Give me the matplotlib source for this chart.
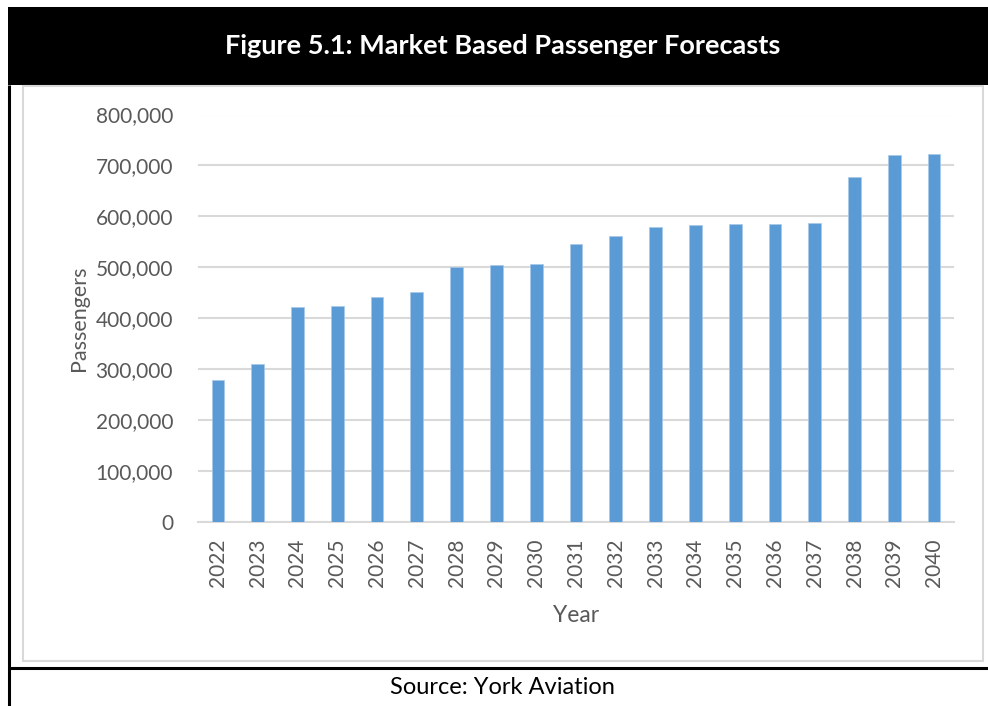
import matplotlib
matplotlib.use('Agg')
import matplotlib.pyplot as plt
from matplotlib.patches import Rectangle
from matplotlib.lines import Line2D
from matplotlib.ticker import FuncFormatter

plt.rcParams['font.family'] = ['Lato', 'DejaVu Sans']

# passenger forecasts by year
years = ['2022', '2023', '2024', '2025', '2026', '2027', '2028', '2029', '2030', '2031',
         '2032', '2033', '2034', '2035', '2036', '2037', '2038', '2039', '2040']
passengers = [278000, 310000, 423000, 425000, 442000, 451000, 500000, 504000, 507000, 545000,
              562000, 580000, 584000, 586000, 586000, 587000, 677000, 720000, 723000]

W, H = 988, 706
fig = plt.figure(figsize=(W / 100, H / 100), dpi=100)
fig.patch.set_facecolor('white')

def fx(px):
    return px / W

def fy(py):
    return 1 - py / H

# black title band
fig.patches.append(Rectangle((fx(8), fy(85)), 1 - fx(8), fy(7) - fy(85),
                             transform=fig.transFigure, facecolor='black', edgecolor='none', zorder=0))
fig.text(fx(503), fy(46), 'Figure 5.1: Market Based Passenger Forecasts', color='white',
         fontsize=19.5, fontweight='bold', ha='center', va='center')

# light grey chart frame
fig.patches.append(Rectangle((fx(23), fy(661)), fx(983) - fx(23), fy(86) - fy(661),
                             transform=fig.transFigure, facecolor='none', edgecolor='#d9d9d9',
                             linewidth=1.5, zorder=0))

# table borders
fig.lines.append(Line2D([fx(9), fx(9)], [0, fy(85)], transform=fig.transFigure,
                        color='black', linewidth=2.2, solid_capstyle='butt'))
fig.lines.append(Line2D([fx(8), 1], [fy(668), fy(668)], transform=fig.transFigure,
                        color='black', linewidth=2.2, solid_capstyle='butt'))
fig.text(fx(502), fy(688), 'Source: York Aviation', color='black', fontsize=17,
         ha='center', va='center')

ax = fig.add_axes([fx(198), fy(522), fx(954) - fx(198), fy(114.5) - fy(522)])
x = range(len(years))
ax.bar(x, passengers, width=0.32, color='#5b9bd5', edgecolor='#a9c8ea', linewidth=0.5, zorder=3)

ax.set_xlim(-0.5, len(years) - 0.5)
ax.set_ylim(0, 800000)
ax.set_yticks(range(0, 800001, 100000))
ax.yaxis.set_major_formatter(FuncFormatter(lambda v, p: f'{int(v):,}'))
ax.set_xticks(list(x))
ax.set_xticklabels(years, rotation=90)

ax.grid(axis='y', color='#d9d9d9', linewidth=1.5, zorder=0)
ax.set_axisbelow(True)
for side in ['top', 'right', 'left']:
    ax.spines[side].set_visible(False)
ax.spines['bottom'].set_color('#d9d9d9')
ax.spines['bottom'].set_linewidth(1.5)
ax.tick_params(axis='both', length=0, labelsize=15, labelcolor='#595959')
ax.tick_params(axis='y', pad=18)
ax.tick_params(axis='x', pad=12)

ax.set_xlabel('Year', fontsize=16.5, color='#595959', labelpad=13)
ax.set_ylabel('Passengers', fontsize=15.5, color='#595959', labelpad=5)

fig.savefig('out.png', dpi=100)
